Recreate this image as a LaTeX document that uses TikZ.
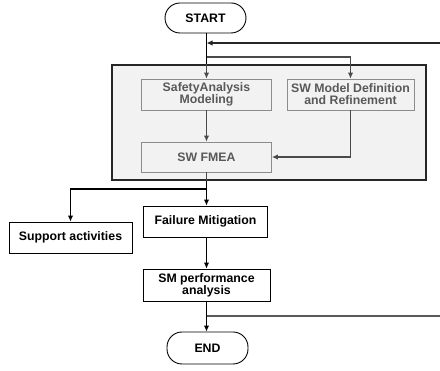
\documentclass[tikz,border=0pt]{standalone}
\usepackage{fontspec}
\setmainfont{Liberation Sans}
\usetikzlibrary{arrows.meta}
\definecolor{grpfill}{HTML}{F2F2F2}
\definecolor{inbord}{HTML}{8C8C8C}
\definecolor{intext}{HTML}{595959}
\definecolor{inline}{HTML}{4A4A4A}
\begin{document}
\begin{tikzpicture}[x=1pt,y=-1pt,
  font=\fontsize{12.3}{14}\selectfont\bfseries,
  outbox/.style={draw=black,fill=white,line width=0.9pt,align=center,inner sep=1pt},
  inbox/.style={draw=inbord,fill=grpfill,line width=0.9pt,align=center,inner sep=1pt,text=intext},
  term/.style={draw=black,fill=white,line width=0.9pt,rounded corners=15pt,inner sep=1pt},
  arr/.style={-{Latex[length=6pt,width=5.5pt]},line width=1.1pt,draw=black},
  inarr/.style={-{Latex[length=6pt,width=5.5pt]},line width=1.1pt,draw=inline},
  ln/.style={line width=1.1pt}]
\useasboundingbox (0,0) rectangle (440,371);
\node[draw=black!85,fill=grpfill,line width=1.3pt,minimum width=314pt,minimum height=115pt,inner sep=0pt] (grp) at (269,122.5) {};
\node[term,minimum width=81pt,minimum height=30pt] (start) at (205.5,18) {START};
\node[inbox,minimum width=130pt,minimum height=31pt] (sa) at (206.5,94.5) {SafetyAnalysis\\[-2pt]Modeling};
\node[inbox,minimum width=127pt,minimum height=31pt] (swm) at (350.5,94.5) {SW Model Definition\\[-2pt]and Refinement};
\node[inbox,minimum width=130pt,minimum height=30pt] (fmea) at (206.5,157) {SW FMEA};
\node[outbox,minimum width=124pt,minimum height=31pt] (fm) at (205.5,221.5) {Failure Mitigation};
\node[outbox,minimum width=123pt,minimum height=31pt] (sup) at (70.5,237.5) {Support activities};
\node[outbox,minimum width=127pt,minimum height=32pt] (smp) at (206.5,285) {SM performance\\[-2pt]analysis};
\node[term,minimum width=81pt,minimum height=32pt] (end) at (207.5,348) {END};
\coordinate (fbin) at (441,43);
\coordinate (fbjoin) at (206.5,43);
\coordinate (br1) at (206.5,57);
\coordinate (br2) at (206.5,189);
\coordinate (fbout) at (206.5,316);
\coordinate (fbend) at (441,316);
% top
\draw[ln,black] (start.south -| fbjoin) -- (grp.north -| fbjoin);
\draw[inarr] (grp.north -| fbjoin) -- (sa.north);
\draw[arr,draw=black!85] (fbin) -- (fbjoin);
\draw[inarr] (br1) -| (swm.north);
\draw[inarr] (sa) -- (fmea);
\draw[inarr] (swm.south) |- (fmea.east);
% bottom
\draw[ln,inline] (fmea.south) -- (grp.south -| fmea.south);
\draw[arr] (grp.south -| fmea.south) -- (fm.north -| fmea.south);
\draw[arr] (br2) -| (sup.north);
\draw[arr] (fm.south -| smp.north) -- (smp.north);
\draw[arr] (smp.south) -- (end.north -| smp.south);
\draw[ln,draw=black!65] (fbout) -- (fbend);
\end{tikzpicture}
\end{document}
